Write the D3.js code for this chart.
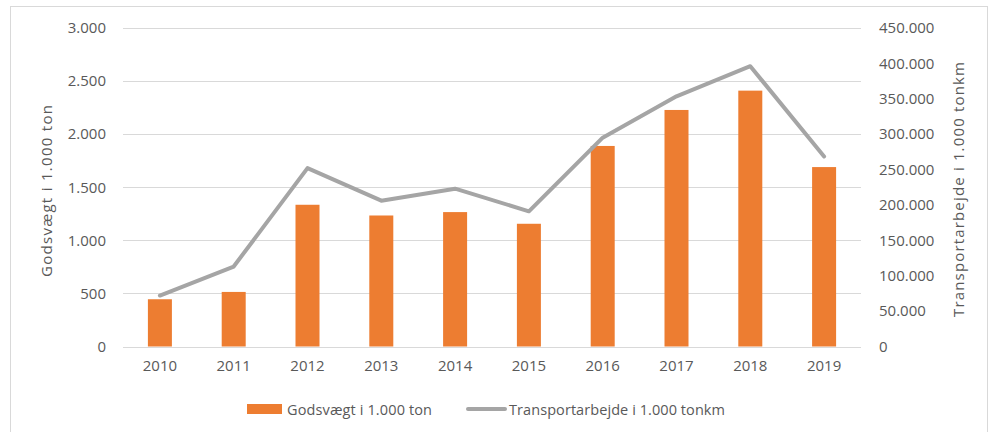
<!DOCTYPE html>
<html>
<head>
<meta charset="utf-8">
<script src="https://cdn.jsdelivr.net/npm/d3@7"></script>
<style>
  body { margin: 0; background: #fff; }
  text { font-family: "Open Sans", sans-serif; fill: #595959; }
</style>
</head>
<body>
<div id="chart"></div>
<script>
const years = ["2010", "2011", "2012", "2013", "2014", "2015", "2016", "2017", "2018", "2019"];
const godsvaegt = [445, 514, 1335, 1234, 1266, 1156, 1889, 2228, 2410, 1690];
const transportarbejde = [72000, 113000, 252000, 206000, 223000, 191000, 295000, 353500, 396000, 268500];
const leftTicks = [0, 500, 1000, 1500, 2000, 2500, 3000];
const rightTicks = [0, 50000, 100000, 150000, 200000, 250000, 300000, 350000, 400000, 450000];

const W = 995, H = 432;
const plot = { left: 123, right: 861, top: 28, bottom: 346.5 };

const fmt = d3.formatLocale({ decimal: ",", thousands: ".", grouping: [3], currency: ["", ""] }).format(",");

const svg = d3.select("#chart").append("svg")
  .attr("width", W)
  .attr("height", H);

// outer frame
svg.append("rect")
  .attr("x", 10.5).attr("y", 6.5)
  .attr("width", 977).attr("height", 440)
  .attr("fill", "#fff")
  .attr("stroke", "#d9d9d9");

const x = d3.scaleBand().domain(years).range([plot.left, plot.right]).paddingInner(0).paddingOuter(0);
const yL = d3.scaleLinear().domain([0, 3000]).range([plot.bottom, plot.top]);
const yR = d3.scaleLinear().domain([0, 450000]).range([plot.bottom, plot.top]);

// gridlines
svg.append("g").selectAll("line")
  .data(leftTicks)
  .join("line")
  .attr("x1", plot.left).attr("x2", plot.right)
  .attr("y1", d => Math.round(yL(d)) + 0.5)
  .attr("y2", d => Math.round(yL(d)) + 0.5)
  .attr("stroke", "#d9d9d9")
  .attr("stroke-width", 1);

// left axis
const leftAxis = svg.append("g")
  .attr("transform", "translate(" + (plot.left - 17) + ",0)")
  .call(d3.axisLeft(yL).tickValues(leftTicks).tickFormat(fmt).tickSize(0).tickPadding(0));
leftAxis.select(".domain").remove();

// right axis
const rightAxis = svg.append("g")
  .attr("transform", "translate(" + (plot.right + 18) + ",0)")
  .call(d3.axisRight(yR).tickValues(rightTicks).tickFormat(fmt).tickSize(0).tickPadding(0));
rightAxis.select(".domain").remove();

// x axis
const xAxis = svg.append("g")
  .attr("transform", "translate(0," + (plot.bottom + 14) + ")")
  .call(d3.axisBottom(x).tickSize(0).tickPadding(0));
xAxis.select(".domain").remove();

svg.selectAll(".tick text")
  .attr("font-size", "15px")
  .attr("font-family", "Open Sans, sans-serif")
  .attr("fill", "#595959");

// bars
const barW = 24;
svg.append("g").selectAll("rect")
  .data(years)
  .join("rect")
  .attr("x", d => x(d) + x.bandwidth() / 2 - barW / 2)
  .attr("y", (d, i) => yL(godsvaegt[i]))
  .attr("width", barW)
  .attr("height", (d, i) => plot.bottom - yL(godsvaegt[i]))
  .attr("fill", "#ed7d31");

// line
const line = d3.line()
  .x((d, i) => x(years[i]) + x.bandwidth() / 2)
  .y(d => yR(d));

svg.append("path")
  .datum(transportarbejde)
  .attr("d", line)
  .attr("fill", "none")
  .attr("stroke", "#a5a5a5")
  .attr("stroke-width", 4)
  .attr("stroke-linejoin", "round")
  .attr("stroke-linecap", "round");

// axis titles (Excel spreads these out a bit)
svg.append("text")
  .attr("transform", "translate(52,191) rotate(-90)")
  .attr("text-anchor", "middle")
  .attr("font-size", "15px")
  .attr("textLength", 172)
  .attr("lengthAdjust", "spacing")
  .text("Godsvægt i 1.000 ton");

svg.append("text")
  .attr("transform", "translate(964,189.5) rotate(-90)")
  .attr("text-anchor", "middle")
  .attr("font-size", "15px")
  .attr("textLength", 255)
  .attr("lengthAdjust", "spacing")
  .text("Transportarbejde i 1.000 tonkm");

// legend
const legend = svg.append("g");
legend.append("rect")
  .attr("x", 247).attr("y", 404)
  .attr("width", 35).attr("height", 10)
  .attr("fill", "#ed7d31");
legend.append("text")
  .attr("x", 287).attr("y", 415)
  .attr("font-size", "14.5px")
  .attr("textLength", 145)
  .attr("lengthAdjust", "spacing")
  .text("Godsvægt i 1.000 ton");
legend.append("line")
  .attr("x1", 468).attr("x2", 505)
  .attr("y1", 409).attr("y2", 409)
  .attr("stroke", "#a5a5a5")
  .attr("stroke-width", 4)
  .attr("stroke-linecap", "round");
legend.append("text")
  .attr("x", 509).attr("y", 415)
  .attr("font-size", "14.5px")
  .attr("textLength", 216)
  .attr("lengthAdjust", "spacing")
  .text("Transportarbejde i 1.000 tonkm");
</script>
</body>
</html>
